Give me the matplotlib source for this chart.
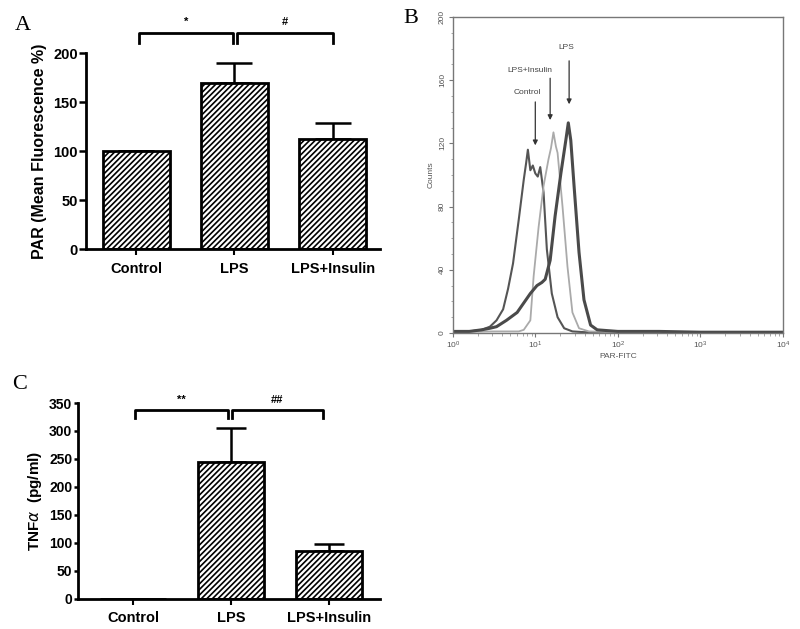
import numpy as np
import matplotlib
matplotlib.use("Agg")
import matplotlib.pyplot as plt
from matplotlib.ticker import MultipleLocator, LogLocator, NullFormatter

plt.rcParams['font.family'] = ['Liberation Sans', 'DejaVu Sans']
plt.rcParams['hatch.linewidth'] = 1.2

groups = ["Control", "LPS", "LPS+Insulin"]

# Panel A: PAR mean fluorescence (%)
par_mean = [100, 169, 112]
par_err = [0, 21, 17]

# Panel C: TNF-alpha (pg/ml)
tnf_mean = [0, 245, 85]
tnf_err = [0, 60, 13]

# Panel B: flow cytometry histograms (log10 of PAR-FITC, counts)
ctrl_log = [0.0, 0.2, 0.35, 0.45, 0.53, 0.61, 0.67, 0.73, 0.80, 0.86, 0.89, 0.91,
            0.94, 0.97, 1.0, 1.03, 1.06, 1.10, 1.14, 1.20, 1.27, 1.35, 1.45, 1.6, 2.0]
ctrl_cnt = [1, 1, 2, 4, 8, 15, 28, 44, 72, 97, 108, 116,
            103, 106, 101, 99, 105, 89, 53, 25, 10, 3, 1, 0.5, 0.5]

ins_log = [0.0, 0.5, 0.80, 0.86, 0.94, 0.98, 1.04, 1.10, 1.16, 1.19, 1.22, 1.25,
           1.27, 1.33, 1.39, 1.45, 1.53, 1.65, 2.0]
ins_cnt = [0.5, 1, 1, 2, 8, 36, 67, 93, 110, 117, 127, 118,
           114, 80, 42, 13, 3, 1, 0.5]

lps_log = [0.0, 0.2, 0.35, 0.45, 0.53, 0.65, 0.78, 0.86, 0.94, 1.02, 1.08, 1.12,
           1.18, 1.24, 1.31, 1.37, 1.40, 1.43, 1.47, 1.53, 1.59, 1.67, 1.75,
           2.0, 2.5, 3.0, 3.5, 4.0]
lps_cnt = [1, 1, 2, 3, 4, 8, 13, 19, 25, 30, 32, 34,
           46, 74, 101, 122, 133, 122, 93, 51, 21, 5, 2,
           1, 1, 0.5, 0.5, 0.5]

fig = plt.figure(figsize=(8, 6.29), dpi=100)


def bar_panel(ax, means, errs, ymax, ystep, capsize, ylsize=10.5, ticklen=5):
    x = np.arange(len(groups))
    ax.bar(x, means, width=0.68, color='white', edgecolor='black',
           linewidth=2, hatch='//////', zorder=2)
    ax.errorbar(x, means, yerr=[[0] * len(errs), errs], fmt='none',
                ecolor='black', elinewidth=1.8, capsize=capsize, capthick=1.8,
                zorder=1)
    ax.set_ylim(0, ymax)
    ax.yaxis.set_major_locator(MultipleLocator(ystep))
    ax.set_xticks(x)
    ax.set_xticklabels(groups, fontsize=10.5, fontweight='bold')
    for lab in ax.get_yticklabels():
        lab.set_fontweight('bold')
    ax.tick_params(axis='y', labelsize=ylsize, width=1.8, length=ticklen, pad=1)
    ax.tick_params(axis='x', width=1.5, length=4, pad=5)
    for s in ['top', 'right']:
        ax.spines[s].set_visible(False)
    for s in ['left', 'bottom']:
        ax.spines[s].set_linewidth(2)


def bracket(ax, x0, x1, ytop, ybot, label, ylab):
    ax.plot([x0, x0, x1, x1], [ybot, ytop, ytop, ybot], color='black',
            lw=2, clip_on=False)
    ax.text((x0 + x1) / 2, ylab, label, ha='center', va='center',
            fontsize=8, fontweight='bold')


# Panel A
axA = fig.add_axes([0.1075, 0.604, 0.3675, 0.3116])
axA.set_xlim(-0.51, 2.48)
bar_panel(axA, par_mean, par_err, 200, 50, 13)
axA.set_ylabel("PAR (Mean Fluorescence %)", fontsize=11.5, fontweight='bold',
               labelpad=4)
bracket(axA, 0.03, 0.985, 220, 210, "*", 232)
bracket(axA, 1.025, 2.0, 220, 210, "#", 232)
fig.text(0.018, 0.96, "A", fontsize=16, family='Liberation Serif',
         va='center')

# Panel C
axC = fig.add_axes([0.0975, 0.0477, 0.3775, 0.3116])
axC.set_xlim(-0.56, 2.52)
bar_panel(axC, tnf_mean, tnf_err, 350, 50, 11, ylsize=10, ticklen=3)
axC.set_ylabel(r"TNF$\alpha$  (pg/ml)", fontsize=11, fontweight='bold',
               labelpad=4)
bracket(axC, 0.02, 0.97, 337, 323, "**", 355)
bracket(axC, 1.01, 1.94, 337, 323, "##", 355)
fig.text(0.015, 0.388, "C", fontsize=16, family='Liberation Serif',
         va='center')

# Panel B
axB = fig.add_axes([0.566, 0.4706, 0.4125, 0.5024])
axB.plot(10 ** np.array(ctrl_log), ctrl_cnt, color='#555555', lw=1.5)
axB.plot(10 ** np.array(ins_log), ins_cnt, color='#aaaaaa', lw=1.3)
axB.plot(10 ** np.array(lps_log), lps_cnt, color='#4a4a4a', lw=2.2)
axB.set_xscale('log')
axB.set_xlim(1, 1e4)
axB.set_ylim(0, 200)
axB.yaxis.set_major_locator(MultipleLocator(40))
axB.yaxis.set_minor_locator(MultipleLocator(10))
axB.xaxis.set_major_locator(LogLocator(base=10, numticks=10))
axB.xaxis.set_minor_locator(LogLocator(base=10, subs=np.arange(2, 10), numticks=10))
axB.xaxis.set_minor_formatter(NullFormatter())
for s in axB.spines.values():
    s.set_color('#777777')
    s.set_linewidth(1.0)
axB.tick_params(axis='both', which='major', labelsize=6, colors='#777777',
                labelcolor='#555555', length=3, width=0.8, pad=2)
axB.tick_params(axis='both', which='minor', colors='#999999', length=1.8,
                width=0.6)
for lab in axB.get_yticklabels():
    lab.set_rotation(90)
    lab.set_va('center')
axB.set_ylabel("Counts", fontsize=6, color='#555555', labelpad=3)
axB.set_xlabel("PAR-FITC", fontsize=6, color='#555555', labelpad=1)

arrow = dict(arrowstyle='-|>', color='#333333', lw=0.9, mutation_scale=7)
axB.annotate("", xy=(10 ** 1.41, 143), xytext=(10 ** 1.41, 174), arrowprops=arrow)
axB.text(10 ** 1.38, 180, "LPS", fontsize=6, color='#444444', ha='center')
axB.annotate("", xy=(10 ** 1.18, 133), xytext=(10 ** 1.18, 163), arrowprops=arrow)
axB.text(10 ** 0.94, 165, "LPS+Insulin", fontsize=6, color='#444444', ha='center')
axB.annotate("", xy=(10 ** 1.0, 117), xytext=(10 ** 1.0, 148), arrowprops=arrow)
axB.text(10 ** 0.9, 151, "Control", fontsize=6, color='#444444', ha='center')
fig.text(0.504, 0.97, "B", fontsize=16, family='Liberation Serif', va='center')

fig.savefig("out.png", dpi=100)
